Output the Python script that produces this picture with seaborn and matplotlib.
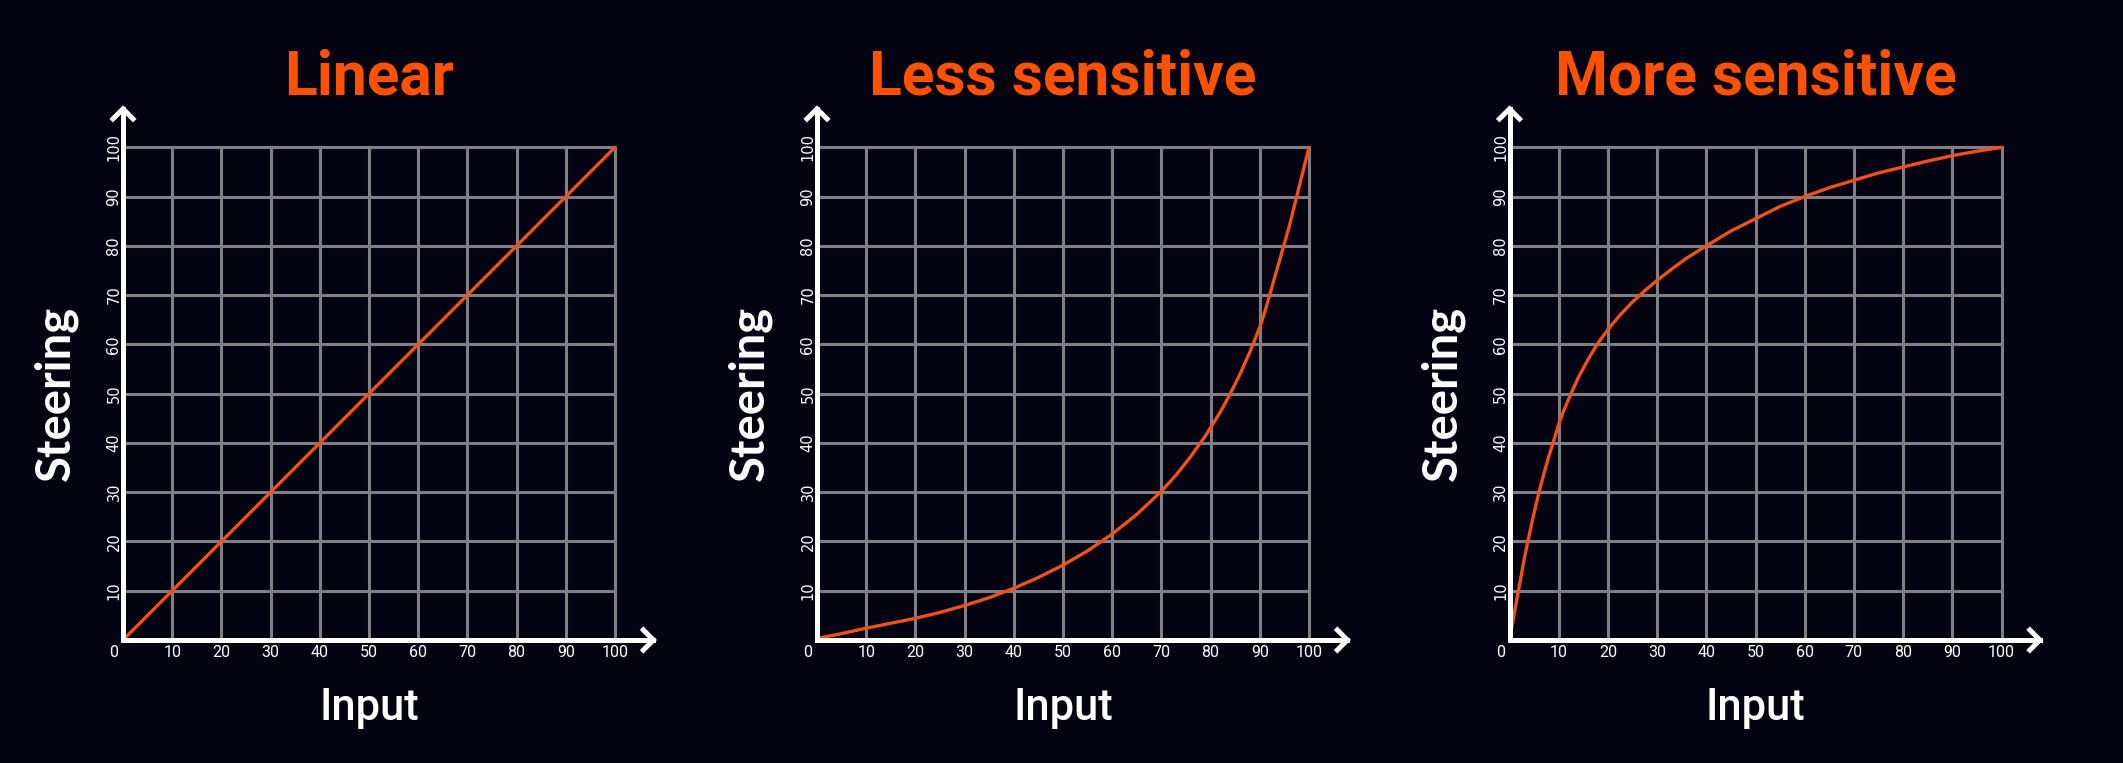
import matplotlib
matplotlib.use("Agg")
import matplotlib.pyplot as plt
from matplotlib import font_manager as fm
from matplotlib import transforms
import numpy as np
import pandas as pd
import seaborn as sns

# ---------------- data ----------------
titles = ["Linear", "Less sensitive", "More sensitive"]

linear_x = [0, 100]
linear_y = [0, 100]

less_x = [0, 5, 10, 15, 20, 25, 30, 35, 40, 45, 50, 55, 60, 65, 70, 73, 76, 79, 82, 84,
          86, 88, 90, 91, 92, 93, 94, 95, 96, 97, 98, 99, 100]
less_y = [0.3, 1.3, 2.4, 3.4, 4.4, 5.6, 7.0, 8.6, 10.5, 12.7, 15.2, 18.1, 21.5, 25.5, 30.2,
          33.5, 37.3, 41.5, 46.3, 50, 54, 58.5, 63.5, 66.5, 70, 73.5, 77, 80.5, 84, 88,
          92, 96, 100]

more_x = [0, 1, 2, 3, 4, 5, 6, 7, 8, 9, 10, 11, 12.5, 14, 16, 18, 20, 22.5, 25, 27.5, 30,
          33, 36, 40, 45, 50, 55, 60, 65, 70, 75, 80, 85, 90, 95, 100]
more_y = [0, 5.6, 11, 16.5, 21.3, 25.8, 30, 33.8, 37.3, 40.5, 43.8, 46.5, 50, 53.3, 57,
          60.3, 63, 66, 68.6, 70.9, 73, 75.3, 77.5, 80, 83, 85.5, 88, 90, 91.8, 93.3, 94.8,
          96, 97.2, 98.3, 99.2, 100]

series_x = [linear_x, less_x, more_x]
series_y = [linear_y, less_y, more_y]

tick_values = [0, 10, 20, 30, 40, 50, 60, 70, 80, 90, 100]
x_label = "Input"
y_label = "Steering"

# ---------------- style ----------------
BG = "#030312"
ORANGE_TITLE = "#ff5100"
ORANGE_LINE = "#f0501a"
GRID = "#808084"
WHITE = "#ffffff"


def pick(names):
    for n in names:
        try:
            fm.findfont(fm.FontProperties(family=n), fallback_to_default=False)
            return n
        except Exception:
            pass
    return "DejaVu Sans"


sns.set_theme(style="dark", rc={"axes.facecolor": BG, "figure.facecolor": BG})
plt.rcParams["font.family"] = ["DejaVu Sans"]

title_font = pick(["Roboto", "Liberation Sans Narrow", "Liberation Sans"])
steer_font = pick(["Lato", "Open Sans", "Liberation Sans"])
xtick_font = pick(["Roboto", "DejaVu Sans"])
ytick_font = "DejaVu Sans"

W, H = 2123, 763
fig = plt.figure(figsize=(W / 100, H / 100), dpi=100)
fig.patch.set_facecolor(BG)

lefts_px = [123, 817, 1509.5]
width_px = 492
bottom_px = 123
height_px = 492.7

ARROW_END = 107.8
HEAD = 2.4

for i in range(3):
    ax = fig.add_axes([lefts_px[i] / W, bottom_px / H, width_px / W, height_px / H])
    ax.set_facecolor(BG)
    df = pd.DataFrame({"x": series_x[i], "y": series_y[i]})
    sns.lineplot(data=df, x="x", y="y", ax=ax, color=ORANGE_LINE, linewidth=2.4,
                 estimator=None, sort=False, zorder=3)
    for ln in ax.lines:
        ln.set_clip_on(False)
        ln.set_solid_joinstyle("round")

    ax.set_xlim(0, 100)
    ax.set_ylim(0, 100)
    ax.set_xticks(tick_values)
    ax.set_yticks(tick_values[1:])
    ax.set_xticklabels([str(v) for v in tick_values])
    ax.set_yticklabels([str(v) for v in tick_values[1:]])
    ax.set_xlabel("")
    ax.set_ylabel("")

    ax.grid(True, color=GRID, linewidth=2.2)
    ax.set_axisbelow(True)
    for gl in ax.get_xgridlines() + ax.get_ygridlines():
        gl.set_clip_on(False)
    for s in ax.spines.values():
        s.set_visible(False)

    ax.tick_params(axis="x", length=0, pad=3.5, colors=WHITE, labelsize=11.5)
    ax.tick_params(axis="y", length=0, pad=6.5, colors=WHITE, labelsize=10.5)
    for lbl in ax.get_yticklabels():
        lbl.set_rotation(90)
        lbl.set_ha("center")
        lbl.set_va("center")
        lbl.set_family(ytick_font)
    for lbl in ax.get_xticklabels():
        lbl.set_family(xtick_font)
    first = ax.xaxis.get_major_ticks()[0].label1
    first.set_transform(first.get_transform() +
                        transforms.ScaledTranslation(-9 / 100, 0, fig.dpi_scale_trans))

    # axis arrows
    ax.plot([0, 0, ARROW_END], [ARROW_END, 0, 0], color=WHITE, lw=3.6, clip_on=False,
            solid_joinstyle="miter", solid_capstyle="projecting", zorder=5)
    ax.plot([-HEAD, 0, HEAD], [ARROW_END - HEAD, ARROW_END, ARROW_END - HEAD], color=WHITE,
            lw=3.6, clip_on=False, solid_joinstyle="miter", solid_capstyle="butt", zorder=5)
    ax.plot([ARROW_END - HEAD, ARROW_END, ARROW_END - HEAD], [HEAD, 0, -HEAD], color=WHITE,
            lw=3.6, clip_on=False, solid_joinstyle="miter", solid_capstyle="butt", zorder=5)

    ax.text(0.5, 1.108, titles[i], transform=ax.transAxes, ha="center", va="baseline",
            fontsize=43.6, fontweight="bold", family=title_font, color=ORANGE_TITLE)
    ax.text(0.5, -0.162, x_label, transform=ax.transAxes, ha="center", va="baseline",
            fontsize=31.4, fontweight="medium", family=title_font, color=WHITE)
    ax.text(-0.136, 0.5, y_label, transform=ax.transAxes, ha="center", va="center",
            rotation=90, fontsize=34, fontweight="bold", family=steer_font, color=WHITE)

fig.savefig("out.png", dpi=100, facecolor=BG)
